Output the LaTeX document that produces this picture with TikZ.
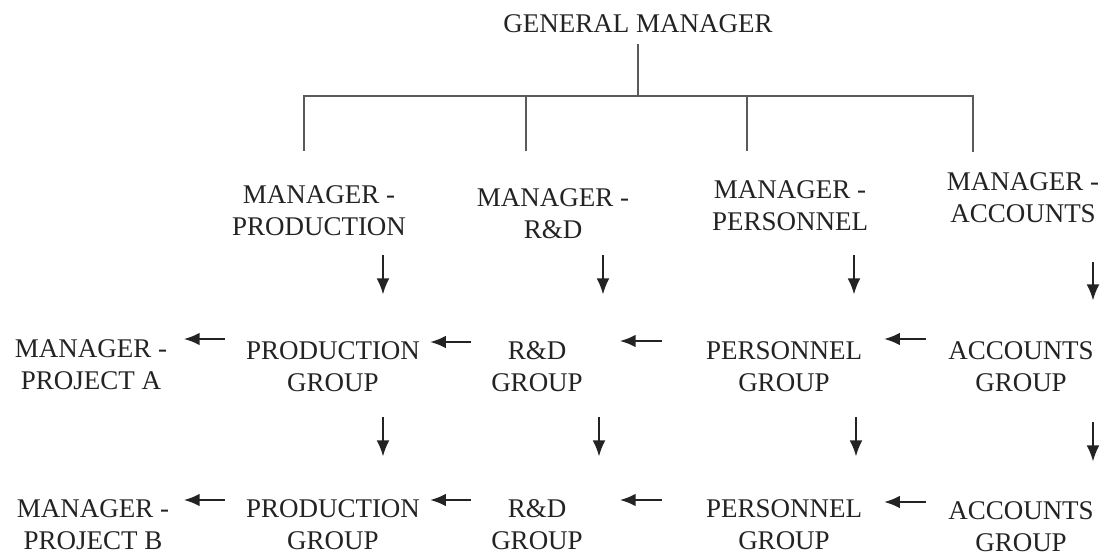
\documentclass[tikz,border=0pt]{standalone}
\usepackage{fontspec}
\setmainfont{Liberation Serif}
\usetikzlibrary{arrows.meta}
\definecolor{inkgray}{RGB}{35, 35, 35}
\definecolor{linegray}{RGB}{90, 90, 90}
\tikzset{
 post/.style={
 inner sep=0pt,
 align=center,
 text=inkgray,
 font=\fontsize{19.2}{22.8}\selectfont
 },
 treeline/.style={line width=1.4pt, draw=linegray},
 downarrow/.style={-{Latex[length=0.4cm, width=0.32cm]}, line width=1.2pt, draw=inkgray},
 leftarrow/.style={-{Latex[length=0.4cm, width=0.32cm]}, line width=1.8pt, draw=inkgray}
}

\begin{document}
\begin{tikzpicture}[x=0.025cm, y=-0.025cm]
 \useasboundingbox (0,0) rectangle (1102,556);

 % top of the chart
 \node[post] (gm) at (638,24) {GENERAL MANAGER};
 \coordinate (bar) at (638,96);

 % department managers
 \node[post] (mprod) at (319,211) {MANAGER -\\PRODUCTION};
 \node[post] (mrd) at (553,214) {MANAGER -\\R\&D};
 \node[post] (mpers) at (790,206) {MANAGER -\\PERSONNEL};
 \node[post] (macc) at (1023,198) {MANAGER -\\ACCOUNTS};

 % project A row
 \node[post] (mproja) at (91,365) {MANAGER -\\PROJECT A};
 \node[post] (gproda) at (333,367) {PRODUCTION\\GROUP};
 \node[post] (grda) at (537,367) {R\&D\\GROUP};
 \node[post] (gpersa) at (784,367) {PERSONNEL\\GROUP};
 \node[post] (gacca) at (1021,367) {ACCOUNTS\\GROUP};

 % project B row
 \node[post] (mprojb) at (93,525) {MANAGER -\\PROJECT B};
 \node[post] (gprodb) at (333,525) {PRODUCTION\\GROUP};
 \node[post] (grdb) at (537,525) {R\&D\\GROUP};
 \node[post] (gpersb) at (784,525) {PERSONNEL\\GROUP};
 \node[post] (gaccb) at (1021,527) {ACCOUNTS\\GROUP};

 % tree lines
 \coordinate (dprod) at ([shift={(-15,-35)}]mprod.north);
 \coordinate (drd) at ([shift={(-27,-38)}]mrd.north);
 \coordinate (dpers) at ([shift={(-43,-30)}]mpers.north);
 \coordinate (dacc) at ([shift={(-50,-21)}]macc.north);
 \draw[treeline] ([shift={(0,11)}]gm.south) -- (bar);
 \draw[treeline] (dprod) |- (bar) -| (dacc);
 \draw[treeline] (drd) -- (drd |- bar);
 \draw[treeline] (dpers) -- (dpers |- bar);

 % downward arrows
 \draw[downarrow] ([shift={(64,19)}]mprod.south) -- ++(0,39);
 \draw[downarrow] ([shift={(50,16)}]mrd.south) -- ++(0,39);
 \draw[downarrow] ([shift={(64,24)}]mpers.south) -- ++(0,39);
 \draw[downarrow] ([shift={(70,39)}]macc.south) -- ++(0,38);
 \draw[downarrow] ([shift={(50,25)}]gproda.south) -- ++(0,39);
 \draw[downarrow] ([shift={(62,25)}]grda.south) -- ++(0,39);
 \draw[downarrow] ([shift={(72,25)}]gpersa.south) -- ++(0,39);
 \draw[downarrow] ([shift={(72,30)}]gacca.south) -- ++(0,39);

 % leftward arrows
 \draw[leftarrow] ([shift={(-21,-28)}]gproda.west) -- ++(-41,0);
 \draw[leftarrow] ([shift={(-20,-25)}]grda.west) -- ++(-41,0);
 \draw[leftarrow] ([shift={(-44,-26)}]gpersa.west) -- ++(-42,0);
 \draw[leftarrow] ([shift={(-22,-28)}]gacca.west) -- ++(-42,0);
 \draw[leftarrow] ([shift={(-21,-25)}]gprodb.west) -- ++(-41,0);
 \draw[leftarrow] ([shift={(-20,-25)}]grdb.west) -- ++(-41,0);
 \draw[leftarrow] ([shift={(-44,-25)}]gpersb.west) -- ++(-42,0);
 \draw[leftarrow] ([shift={(-22,-25)}]gaccb.west) -- ++(-42,0);
\end{tikzpicture}
\end{document}
